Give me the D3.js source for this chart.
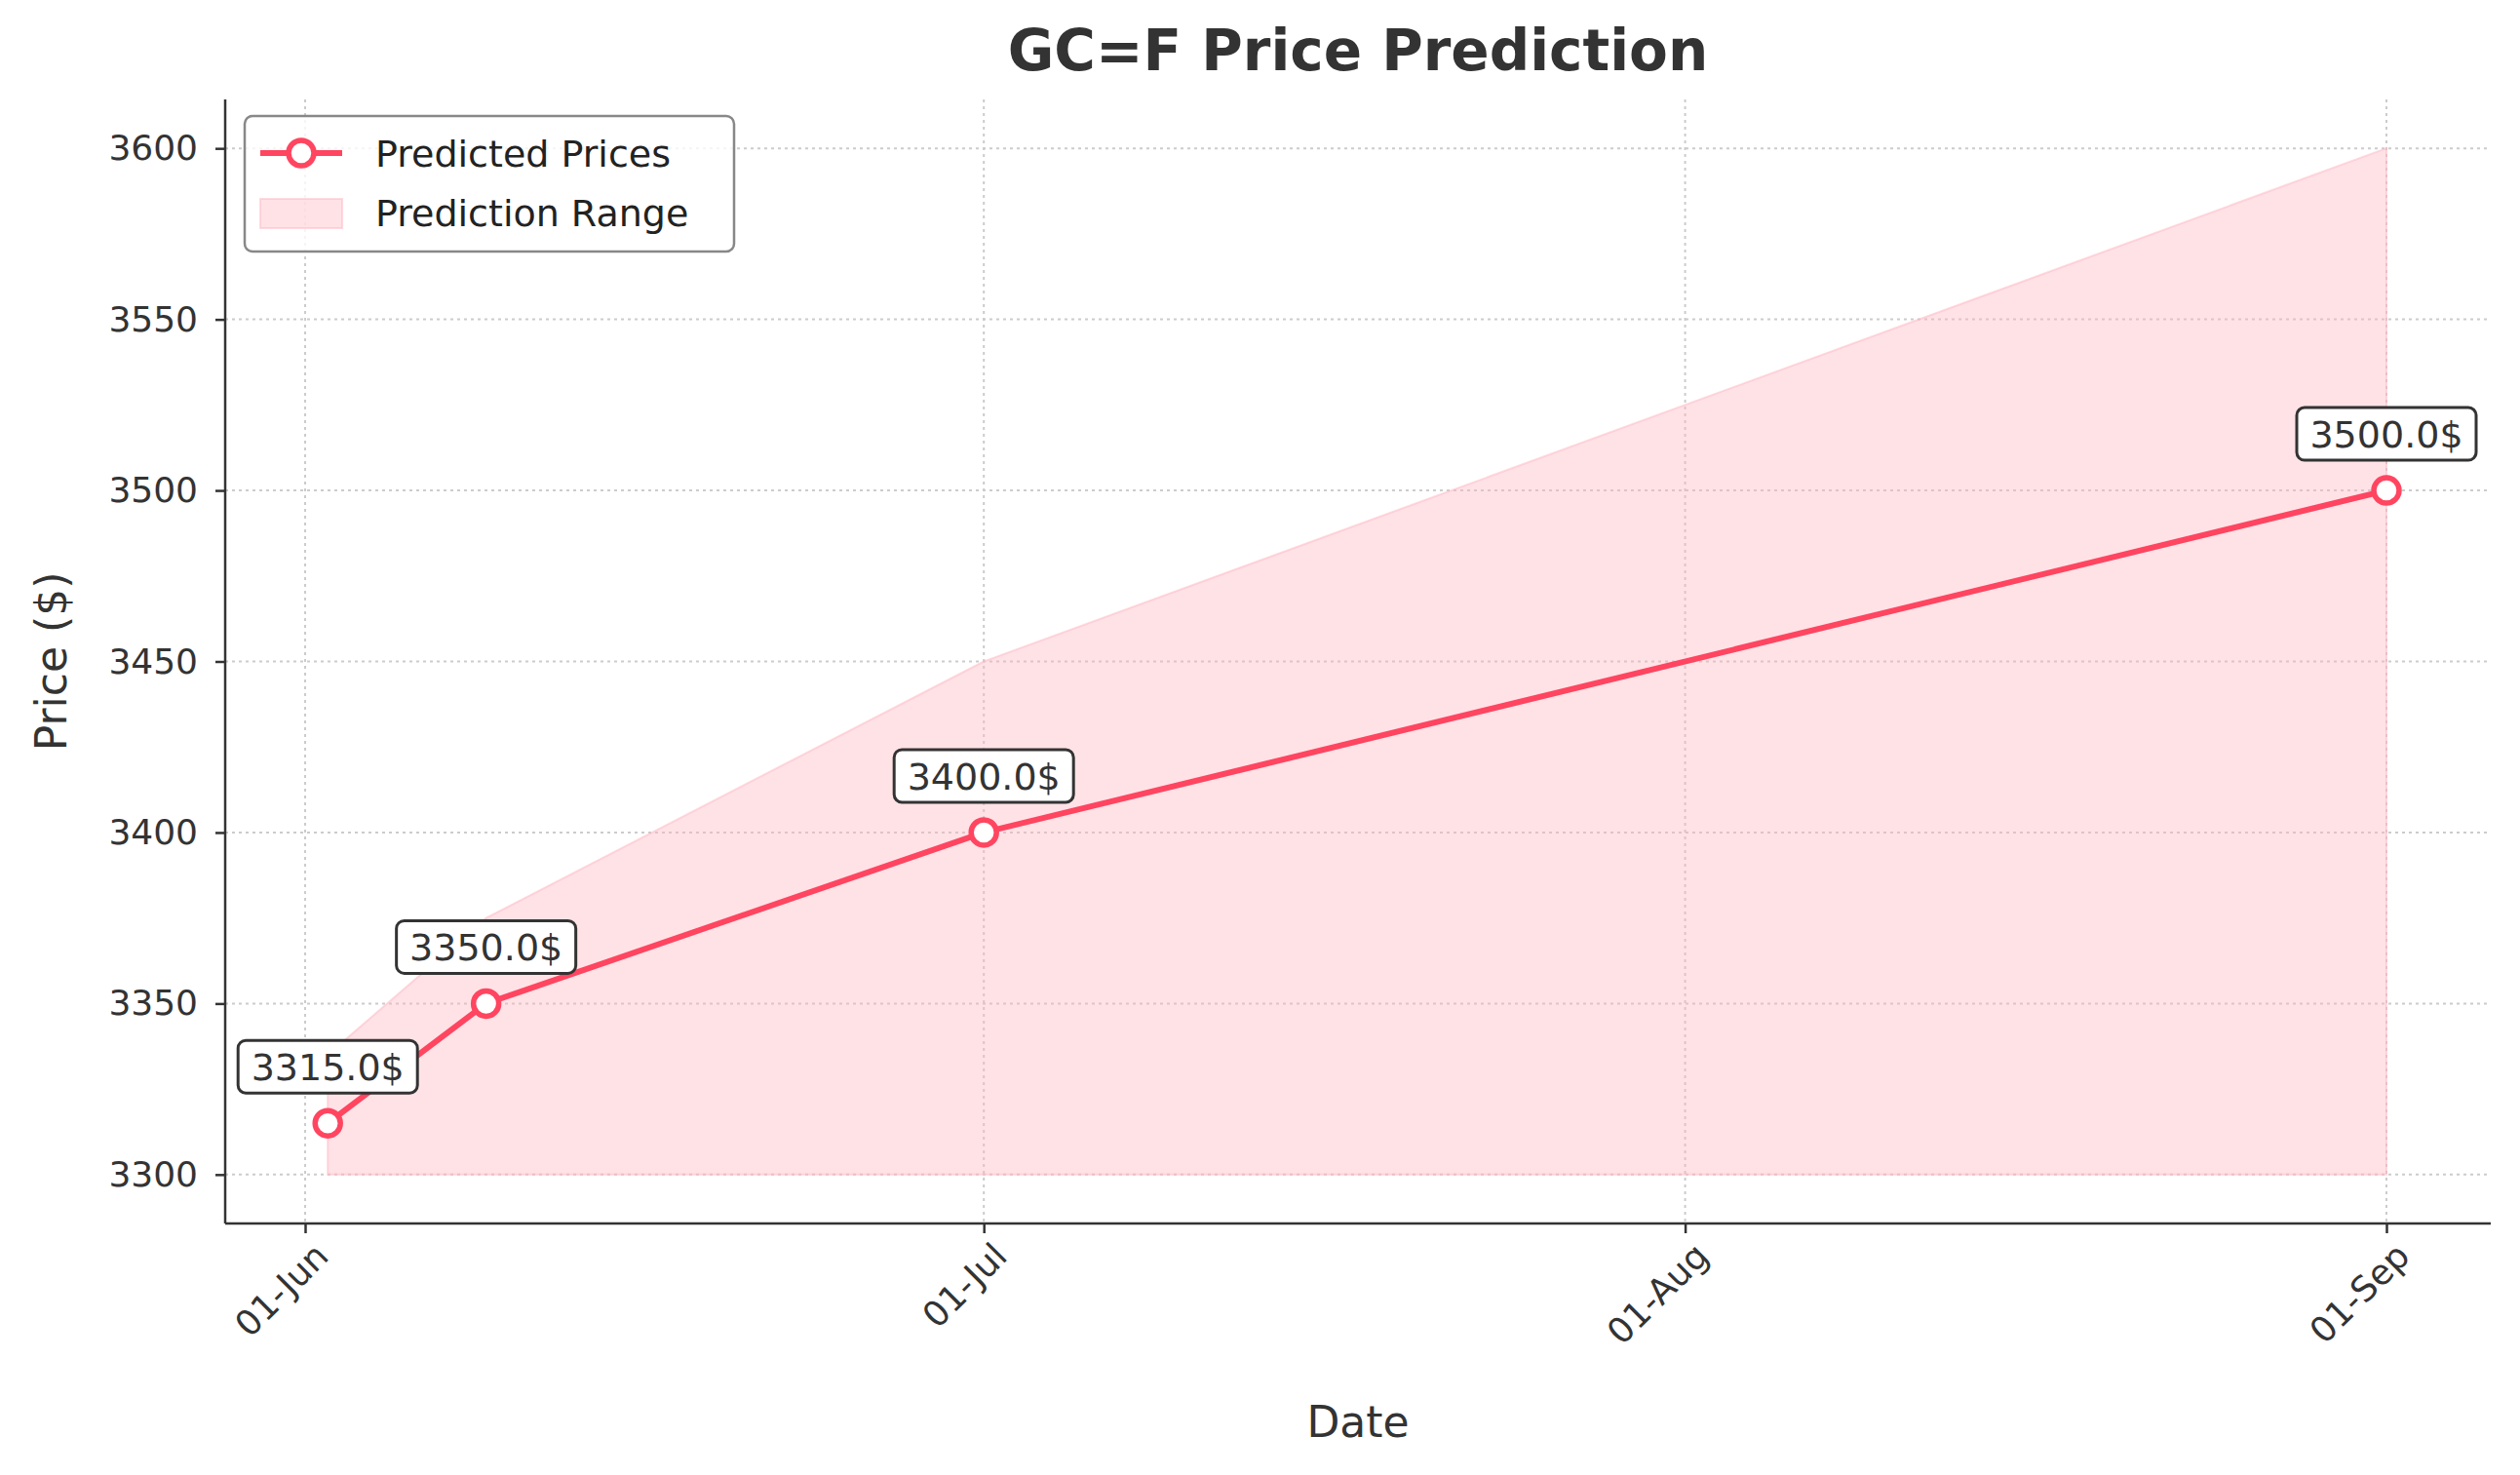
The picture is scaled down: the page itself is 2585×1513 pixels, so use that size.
<!DOCTYPE html>
<html><head><meta charset="utf-8">
<script src="https://cdn.jsdelivr.net/npm/d3@7"></script>
<style>body{margin:0;background:#fff;font-family:"DejaVu Sans",sans-serif}</style>
</head><body>
<svg width="2585" height="1513"></svg>
<script>
var dates = ["2025-06-02", "2025-06-09", "2025-07-01", "2025-09-01"];
var predicted = [3315, 3350, 3400, 3500];
var lower = [3300, 3300, 3300, 3300];
var upper = [3335, 3375, 3450, 3600];
var yTicks = [3300, 3350, 3400, 3450, 3500, 3550, 3600];
var xTicks = ["2025-06-01", "2025-07-01", "2025-08-01", "2025-09-01"];

var parse = d3.timeParse("%Y-%m-%d");
var data = dates.map(function(d, i) {
    return { date: parse(d), p: predicted[i], lo: lower[i], hi: upper[i] };
});

var svg = d3.select("svg"),
    m = { left: 231, right: 2555, top: 102, bottom: 1255 };

var x = d3.scaleTime()
    .domain([parse("2025-06-01"), parse("2025-09-01")])
    .range([313, 2448]);
var y = d3.scaleLinear()
    .domain([3285.7, 3614.3])
    .range([m.bottom, m.top]);

// grid
svg.selectAll(".gy").data(yTicks).enter().append("line")
    .attr("x1", m.left).attr("x2", m.right)
    .attr("y1", function(d) { return y(d); }).attr("y2", function(d) { return y(d); })
    .style("stroke", "#ccc").style("stroke-width", 2).style("stroke-dasharray", "3,4");
svg.selectAll(".gx").data(xTicks).enter().append("line")
    .attr("y1", m.top).attr("y2", m.bottom)
    .attr("x1", function(d) { return x(parse(d)); }).attr("x2", function(d) { return x(parse(d)); })
    .style("stroke", "#ccc").style("stroke-width", 2).style("stroke-dasharray", "3,4");

// range band
svg.append("path").datum(data)
    .attr("d", d3.area().x(function(d) { return x(d.date); })
        .y0(function(d) { return y(d.lo); }).y1(function(d) { return y(d.hi); }))
    .style("fill", "#ffb6c1").style("fill-opacity", 0.4)
    .style("stroke", "#ffb6c1").style("stroke-opacity", 0.5).style("stroke-width", 2);

// axes
var xAxis = svg.append("g").attr("transform", "translate(0," + m.bottom + ")")
    .call(d3.axisBottom(x).tickValues(xTicks.map(parse)).tickFormat(d3.timeFormat("%d-%b")).tickSize(10).tickPadding(8));
xAxis.selectAll("text").attr("font-size", 36).style("fill", "#333")
    .attr("text-anchor", "end").attr("dx", "-0.2em").attr("dy", "0.7em")
    .attr("transform", "rotate(-45)");
var yAxis = svg.append("g").attr("transform", "translate(" + m.left + ",0)")
    .call(d3.axisLeft(y).tickValues(yTicks).tickFormat(d3.format("d")).tickSize(10).tickPadding(18));
yAxis.selectAll("text").attr("font-size", 36).style("fill", "#333");
[xAxis, yAxis].forEach(function(a) {
    a.select(".domain").remove();
    a.selectAll(".tick line").style("stroke", "#333").style("stroke-width", 2.5);
    a.attr("font-family", "DejaVu Sans").attr("font-size", 36);
});
svg.append("line").attr("x1", m.left).attr("x2", m.right).attr("y1", m.bottom).attr("y2", m.bottom)
    .style("stroke", "#333").style("stroke-width", 2.5);
svg.append("line").attr("x1", m.left).attr("x2", m.left).attr("y1", m.top).attr("y2", m.bottom)
    .style("stroke", "#333").style("stroke-width", 2.5);

// line and points
svg.append("path").datum(data)
    .attr("d", d3.line().x(function(d) { return x(d.date); }).y(function(d) { return y(d.p); }))
    .style("fill", "none").style("stroke", "#ff4560").style("stroke-width", 6);
svg.selectAll(".pt").data(data).enter().append("circle")
    .attr("cx", function(d) { return x(d.date); }).attr("cy", function(d) { return y(d.p); })
    .attr("r", 13).style("fill", "#fff").style("stroke", "#ff4560").style("stroke-width", 5.5);

// labels
var lab = svg.selectAll(".lab").data(data).enter().append("g")
    .attr("transform", function(d) { return "translate(" + x(d.date) + "," + (y(d.p) - 58) + ")"; });
lab.append("rect").attr("x", -92).attr("y", -27).attr("width", 184).attr("height", 54)
    .attr("rx", 8).style("fill", "#fff").style("stroke", "#333").style("stroke-width", 3);
lab.append("text").attr("text-anchor", "middle").attr("y", 14)
    .style("font-size", "38px").style("fill", "#333")
    .text(function(d) { return d.p.toFixed(1) + "$"; });

// titles
svg.append("text").attr("x", (m.left + m.right) / 2).attr("y", 72).attr("text-anchor", "middle")
    .style("font-size", "58px").style("font-weight", "bold").style("fill", "#333").text("GC=F Price Prediction");
svg.append("text").attr("x", (m.left + m.right) / 2).attr("y", 1474).attr("text-anchor", "middle")
    .style("font-size", "44px").style("fill", "#333").text("Date");
svg.append("text").attr("transform", "translate(68," + ((m.top + m.bottom) / 2) + ") rotate(-90)")
    .attr("text-anchor", "middle").style("font-size", "44px").style("fill", "#333").text("Price ($)");

// legend
var lg = svg.append("g").attr("transform", "translate(251,119)");
lg.append("rect").attr("width", 502).attr("height", 139).attr("rx", 8)
    .style("fill", "#fff").style("fill-opacity", 0.8).style("stroke", "#888").style("stroke-width", 2.5);
lg.append("line").attr("x1", 16).attr("x2", 100).attr("y1", 38).attr("y2", 38)
    .style("stroke", "#ff4560").style("stroke-width", 6);
lg.append("circle").attr("cx", 58).attr("cy", 38).attr("r", 13)
    .style("fill", "#fff").style("stroke", "#ff4560").style("stroke-width", 5.5);
lg.append("rect").attr("x", 16).attr("y", 85).attr("width", 84).attr("height", 30)
    .style("fill", "#ffb6c1").style("fill-opacity", 0.4).style("stroke", "#ffb6c1").style("stroke-opacity", 0.5).style("stroke-width", 2);
lg.append("text").attr("x", 134).attr("y", 52).style("font-size", "38px").style("fill", "#222").text("Predicted Prices");
lg.append("text").attr("x", 134).attr("y", 113).style("font-size", "38px").style("fill", "#222").text("Prediction Range");
</script>
</body></html>
